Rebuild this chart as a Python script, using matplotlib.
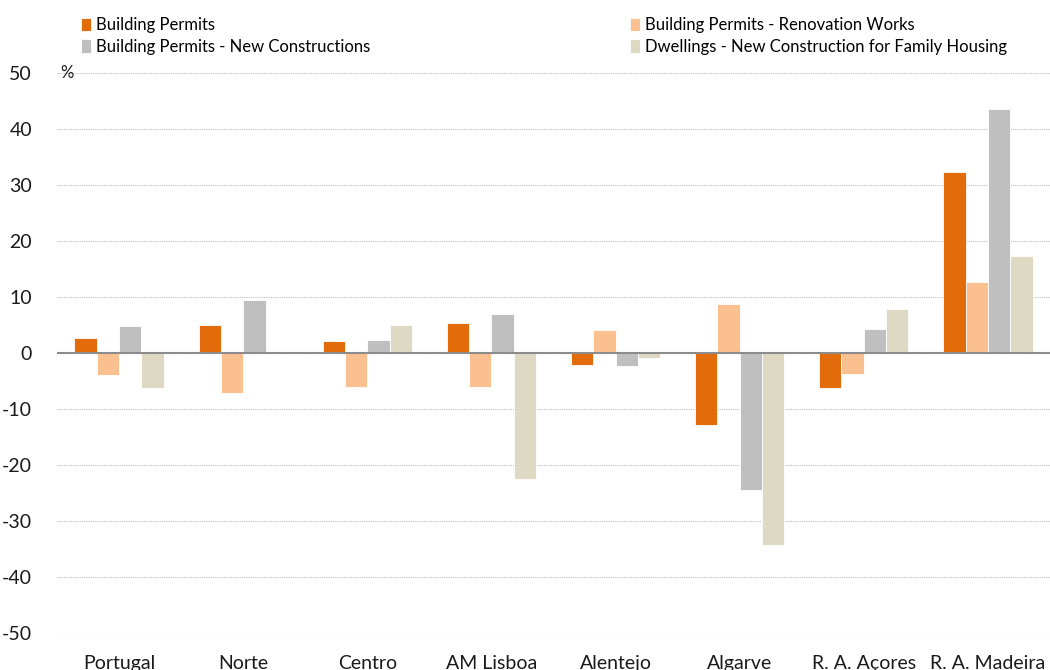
import matplotlib
matplotlib.use("Agg")
import matplotlib.pyplot as plt
import numpy as np

categories = ["Portugal", "Norte", "Centro", "AM Lisboa", "Alentejo", "Algarve", "R. A. Açores", "R. A. Madeira"]
building_permits = [2.7, 5.0, 2.1, 5.4, -2.1, -12.8, -6.3, 32.3]
renovation_works = [-3.9, -7.1, -6.1, -6.1, 4.1, 8.8, -3.8, 12.7]
new_constructions = [4.8, 9.5, 2.3, 7.0, -2.4, -24.5, 4.2, 43.6]
dwellings_family = [-6.3, 0.0, 5.0, -22.5, -0.9, -34.3, 7.8, 17.3]

series_names = ["Building Permits", "Building Permits - Renovation Works",
                "Building Permits - New Constructions",
                "Dwellings - New Construction for Family Housing"]
colors = ["#E36C0A", "#FAC090", "#BFBFBF", "#DDD9C3"]
yticks = [-50, -40, -30, -20, -10, 0, 10, 20, 30, 40, 50]

plt.rcParams['font.family'] = ['Lato', 'DejaVu Sans']

fig = plt.figure(figsize=(10.5, 6.7), dpi=100)
ax = fig.add_axes([57/1050, 1-633/670, 1-57/1050, (633-73)/670])

x = np.arange(len(categories))
w = 0.18
data = [building_permits, renovation_works, new_constructions, dwellings_family]
handles = []
for i, (vals, c, name) in enumerate(zip(data, colors, series_names)):
    b = ax.bar(x + (i - 1.5) * w, vals, width=w, color=c, edgecolor="white",
               linewidth=0.6, label=name, zorder=3)
    handles.append(b)

ax.set_xlim(-0.5, 7.5)
ax.set_ylim(-50, 50)
ax.set_yticks(yticks)
ax.set_yticklabels([str(t) for t in yticks], fontsize=14, color="#1a1a1a")
ax.set_xticks(x)
ax.set_xticklabels(categories, fontsize=14, color="#1a1a1a")
ax.tick_params(axis="both", length=0)
ax.tick_params(axis="x", pad=16)
ax.tick_params(axis="y", pad=18)
for s in ax.spines.values():
    s.set_visible(False)
ax.grid(axis="y", linestyle=(0, (1, 1)), color="#bdbdbd", linewidth=0.8, zorder=0)
ax.axhline(0, color="#8c8c8c", linewidth=1.5, zorder=4)

fig.text(57/1050 + 0.003, 1-73/670, "%", fontsize=12, va="center", ha="left", color="#1a1a1a")

# Legend: two columns
order = [0, 2, 1, 3]
leg = fig.legend([handles[i] for i in order], [series_names[i] for i in order],
                 ncol=2, loc="upper left", bbox_to_anchor=(0.063, 0.997),
                 frameon=False, fontsize=12, handlelength=0.6, handleheight=0.85,
                 handletextpad=0.3, columnspacing=15.6, labelspacing=0.35)

fig.savefig("out.png", dpi=100)
